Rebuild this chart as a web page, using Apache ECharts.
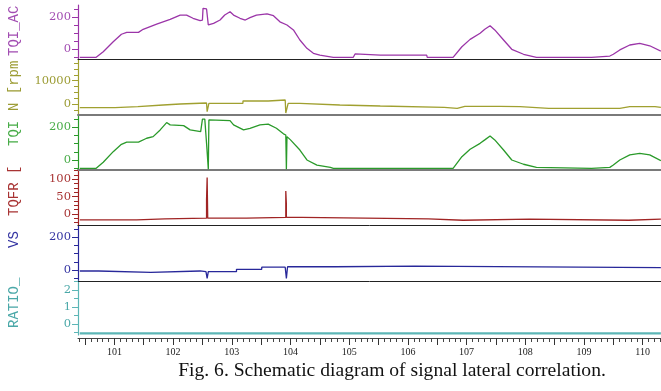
<!DOCTYPE html>
<html>
<head>
<meta charset="utf-8">
<script src="https://cdn.jsdelivr.net/npm/echarts@6/dist/echarts.min.js"></script>
<style>
  html, body { margin: 0; padding: 0; background: #fff; }
  #chart { width: 661px; height: 391px; }
</style>
</head>
<body>
<div id="chart"></div>
<script>
// time axis
const timeLabels = [101, 102, 103, 104, 105, 106, 107, 108, 109, 110];
const timeMajor = [100.5, 101, 101.5, 102, 102.5, 103, 103.5, 104, 104.5, 105, 105.5,
  106, 106.5, 107, 107.5, 108, 108.5, 109, 109.5, 110];

// y ticks per signal
const tqiActTicks = [0, 200];
const tqiActMinor = [-50, 50, 100, 150, 250];
const engSpeedTicks = [0, 10000];
const engSpeedMinor = [-2500, 2500, 5000, 7500, 12500, 15000, 17500];
const tqiTicks = [0, 200];
const tqiMinor = [-50, 50, 100, 150, 250];
const tqfrTicks = [0, 50, 100];
const tqfrMinor = [-25, -12.5, 12.5, 25, 37.5, 62.5, 75, 87.5, 112.5, 125];
const vsTicks = [0, 200];
const vsMinor = [-50, 50, 100, 150, 250];
const ratioTicks = [0, 1, 2];
const ratioMinor = [-0.5, 0.5, 1.5, 2.5];

// signals [time, value]
const tqiAct = [[100.41,-50],[100.69,-50],[100.81,-15],[100.98,47],[101.12,94],[101.21,106],[101.41,106],
  [101.49,125],[101.72,158],[101.95,187],[102.12,214],[102.23,214],[102.34,194],[102.46,179],[102.50,183],
  [102.51,256],[102.57,252],[102.60,152],[102.69,162],[102.80,183],[102.88,214],[102.97,235],[103.03,214],
  [103.14,194],[103.23,183],[103.31,198],[103.42,214],[103.60,221],[103.71,210],[103.82,172],[103.94,152],
  [104.05,121],[104.16,58],[104.28,6],[104.39,-25],[104.50,-36],[104.73,-50],[105.07,-50],[105.10,-29],
  [105.53,-36],[106.32,-36],[106.33,-50],[106.77,-50],[106.92,16],[107.06,62],[107.23,100],[107.31,125],
  [107.40,147],[107.48,121],[107.63,58],[107.77,0],[107.97,-31],[108.19,-50],[109.13,-50],[109.14,-42],
  [109.44,-42],[109.50,-31],[109.61,-4],[109.78,27],[109.95,37],[110.12,22],[110.31,-11]];

const engSpeed = [[100.41,-1590],[101.01,-1590],[101.01,-1160],[101.40,-1160],[101.40,-430],[101.83,-430],
  [101.83,0],[102.12,0],[102.12,430],[102.57,430],[102.58,-3300],[102.60,-3300],[102.61,300],[103.19,300],
  [103.19,1290],[103.62,1290],[103.62,1720],[103.91,1720],[103.92,-3860],[103.94,-3860],[103.96,300],
  [104.16,300],[104.16,-430],[104.84,-430],[104.84,-860],[105.53,-860],[105.53,-1420],[106.62,-1420],
  [106.62,-1850],[106.84,-1850],[106.97,-990],[107.57,-990],[107.57,-1160],[107.91,-1160],[108.40,-1850],
  [109.61,-1850],[109.78,-1160],[110.21,-1160],[110.21,-1420],[110.31,-1420]];

const tqi = [[100.41,-51],[100.69,-51],[100.81,-14],[100.98,51],[101.12,96],[101.21,109],[101.41,109],
  [101.55,133],[101.66,143],[101.78,184],[101.89,229],[101.95,215],[102.18,210],[102.29,184],[102.47,174],
  [102.50,250],[102.54,250],[102.57,102],[102.60,-57],[102.61,245],[102.97,241],[103.03,215],[103.20,184],
  [103.31,194],[103.48,215],[103.62,219],[103.76,194],[103.88,160],[103.92,153],[103.93,-57],[103.94,143],
  [104.00,123],[104.16,61],[104.28,0],[104.45,-31],[104.68,-45],[104.73,-51],[106.77,-51],[106.92,20],
  [107.06,66],[107.23,102],[107.31,123],[107.40,147],[107.48,123],[107.63,61],[107.77,0],[107.97,-26],
  [108.19,-45],[108.22,-51],[109.13,-51],[109.44,-45],[109.50,-31],[109.61,0],[109.78,31],[109.95,41],
  [110.12,31],[110.31,-4]];

const tqfr = [[100.41,-17],[101.38,-17],[101.38,-14],[101.86,-14],[101.86,-12],[102.57,-12],[102.57,42],
  [102.58,42],[102.58,105],[102.59,105],[102.59,-12],[103.25,-12],[103.25,-9.5],[103.92,-9.5],[103.92,66],
  [103.93,28],[103.93,-9.5],[104.19,-9.5],[104.19,-14],[106.35,-14],[106.35,-18],[106.94,-18],[106.94,-15],
  [108.07,-15],[108.07,-18],[109.76,-18],[109.76,-15],[110.31,-15]];

const vs = [[100.41,-6],[100.73,-6],[100.73,-14],[101.62,-14],[101.62,-6],[102.46,-6],[102.46,-10],
  [102.56,-10],[102.58,-51],[102.60,-10],[103.08,-10],[103.08,4],[103.51,4],[103.51,17],[103.91,17],
  [103.93,-51],[103.95,20],[104.76,20],[104.76,24],[106.12,24],[106.12,14],[110.31,14]];

const ratio = [[100.41,-0.55],[110.31,-0.55]];

const xMin = 100.38, xMax = 110.312;

// layout / style of the six stacked panels
const panels = [
  { name: 'TQI_AC', data: tqiAct, ticks: tqiActTicks, minor: tqiActMinor, color: '#9b35a8', label: '#a24db2',
    top: 5, bottom: 59, min: -60.6, max: 276.9, sep: '#222', sepW: 1, nameY: 56 },
  { name: 'N [rpm', data: engSpeed, ticks: engSpeedTicks, minor: engSpeedMinor, color: '#a0a030', label: '#9c9c34',
    top: 59.5, bottom: 114.5, min: -4505, max: 19090, sep: '#7a7a7a', sepW: 2, nameY: 111 },
  { name: 'TQI', data: tqi, ticks: tqiTicks, minor: tqiMinor, color: '#2a9a2a', label: '#48ac48',
    top: 114.5, bottom: 170, min: -61.2, max: 278.3, sep: '#7a7a7a', sepW: 2, nameY: 146 },
  { name: 'TQFR [', data: tqfr, ticks: tqfrTicks, minor: tqfrMinor, color: '#a02424', label: '#a83434',
    top: 170, bottom: 225.5, min: -33.1, max: 126.8, sep: '#222', sepW: 1, nameY: 216 },
  { name: 'VS', data: vs, ticks: vsTicks, minor: vsMinor, color: '#28289a', label: '#3434a2',
    top: 225.5, bottom: 281, min: -67.3, max: 272.2, sep: '#222', sepW: 1, nameY: 248 },
  { name: 'RATIO_', data: ratio, ticks: ratioTicks, minor: ratioMinor, color: '#5cb6b6', label: '#4aa8a8',
    top: 281, bottom: 335, min: -0.647, max: 2.53, sep: null, sepW: 0, nameY: 328 }
];

const timeMinor = [];
for (let t = 1004; t <= 1103; t++) {
  if (t % 5 !== 0) timeMinor.push(t / 10);
}

const grid = [], xAxis = [], yAxis = [], series = [], graphic = [];
const last = panels.length - 1;

panels.forEach(function (p, i) {
  grid.push({ left: 78, right: 0, top: p.top, height: p.bottom - p.top, outerBoundsMode: 'none' });

  if (i < last) {
    xAxis.push({
      gridIndex: i, type: 'value', min: xMin, max: xMax, position: 'bottom',
      axisLine: { show: true, onZero: false, lineStyle: { color: p.sep, width: p.sepW } },
      axisTick: { show: false }, axisLabel: { show: false }, splitLine: { show: false }
    });
  } else {
    xAxis.push({
      gridIndex: i, type: 'value', min: xMin, max: xMax, position: 'bottom', offset: 3,
      axisLine: { show: true, onZero: false, lineStyle: { color: '#444', width: 1 } },
      axisTick: { show: true, customValues: timeMajor, length: 7, lineStyle: { color: '#333' } },
      axisLabel: { show: true, customValues: timeLabels, color: '#222', fontFamily: 'Liberation Serif',
        fontSize: 10, margin: 9, formatter: function (v) { return String(v); } },
      splitLine: { show: false }
    });
  }

  yAxis.push({
    gridIndex: i, type: 'value', min: p.min, max: p.max, position: 'left',
    axisLine: { show: true, onZero: false, lineStyle: { color: p.color, width: 1.2 } },
    axisTick: { show: true, customValues: p.ticks, length: 6, lineStyle: { color: p.color } },
    axisLabel: { show: true, customValues: p.ticks, color: p.label, fontFamily: 'DejaVu Serif',
      fontSize: 11.5, margin: 7, formatter: function (v) { return String(v); } },
    splitLine: { show: false }
  });
  yAxis.push({
    gridIndex: i, type: 'value', min: p.min, max: p.max, position: 'left',
    axisLine: { show: false, onZero: false },
    axisTick: { show: true, customValues: p.minor, length: 4, lineStyle: { color: p.color } },
    axisLabel: { show: false }, splitLine: { show: false }
  });

  series.push({
    type: 'line', xAxisIndex: i, yAxisIndex: 2 * i, data: p.data,
    showSymbol: false, symbol: 'none',
    lineStyle: { color: p.color, width: i === last ? 2.4 : 1.3 }
  });

  graphic.push({
    type: 'text', x: 14, y: p.nameY, rotation: Math.PI / 2,
    style: { text: p.name, fill: p.label, font: '14px "Liberation Mono"', align: 'left', verticalAlign: 'middle' }
  });
});

// minor ticks of the time axis
xAxis.push({
  gridIndex: last, type: 'value', min: xMin, max: xMax, position: 'bottom', offset: 3,
  axisLine: { show: false, onZero: false },
  axisTick: { show: true, customValues: timeMinor, length: 4, lineStyle: { color: '#444' } },
  axisLabel: { show: false }, splitLine: { show: false }
});

graphic.push({
  type: 'text', x: 392, y: 371,
  style: { text: 'Fig. 6. Schematic diagram of signal lateral correlation.', fill: '#111',
    font: '19.6px "Liberation Serif"', align: 'center', verticalAlign: 'middle' }
});

const chart = echarts.init(document.getElementById('chart'), null, { renderer: 'canvas' });
chart.setOption({
  animation: false,
  backgroundColor: '#fff',
  grid: grid,
  xAxis: xAxis,
  yAxis: yAxis,
  series: series,
  graphic: graphic
});
</script>
</body>
</html>
